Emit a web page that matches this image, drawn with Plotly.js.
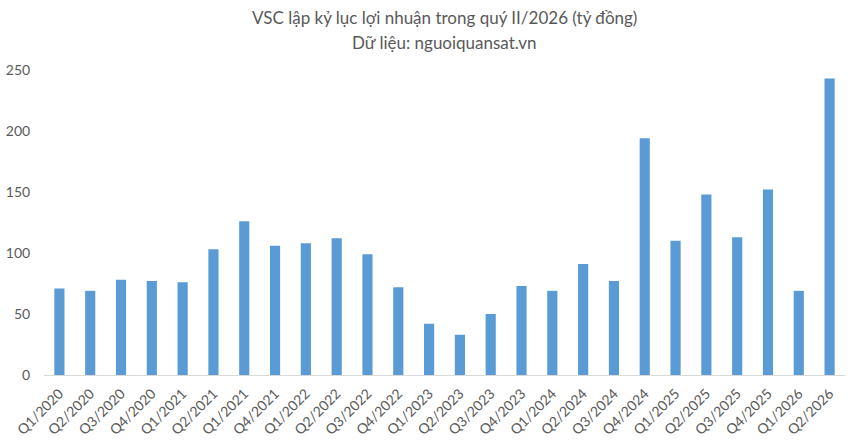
<!DOCTYPE html>
<html>
<head>
<meta charset="utf-8">
<script src="https://cdn.plot.ly/plotly-3.0.1.min.js"></script>
<style>html,body{margin:0;padding:0;background:#fff;}#chart{width:853px;height:447px;}</style>
</head>
<body>
<div id="chart"></div>
<script>
const categories = ["Q1/2020","Q2/2020","Q3/2020","Q4/2020","Q1/2021","Q2/2021","Q1/2021","Q4/2021",
  "Q1/2022","Q2/2022","Q3/2022","Q4/2022","Q1/2023","Q2/2023","Q3/2023","Q4/2023",
  "Q1/2024","Q2/2024","Q3/2024","Q4/2024","Q1/2025","Q2/2025","Q3/2025","Q4/2025","Q1/2026","Q2/2026"];
const profit = [71,69,78,77,76,103,126,106,108,112,99,72,42,33,50,73,69,91,77,194,110,148,113,152,69,243];
const yTicks = [0,50,100,150,200,250];
const titleLine1 = "VSC lập kỷ lục lợi nhuận trong quý II/2026 (tỷ đồng)";
const titleLine2 = "Dữ liệu: nguoiquansat.vn";

const xIdx = categories.map((c, i) => i);
const FONT = 'Lato, "Open Sans", sans-serif';

const trace = {
  type: 'bar',
  x: xIdx,
  y: profit,
  marker: {color: '#5b9bd5'},
  hoverinfo: 'y'
};

const layout = {
  width: 853, height: 447,
  margin: {l: 44, r: 8, t: 70, b: 72},
  paper_bgcolor: '#ffffff', plot_bgcolor: '#ffffff',
  font: {family: FONT, color: '#595959'},
  bargap: 0.67,
  showlegend: false,
  annotations: [
    {text: titleLine1, xref: 'paper', yref: 'paper', x: 0.5, y: 1.1705, xanchor: 'center', yanchor: 'middle',
     showarrow: false, font: {size: 17, color: '#595959', family: FONT}},
    {text: titleLine2, xref: 'paper', yref: 'paper', x: 0.5, y: 1.0918, xanchor: 'center', yanchor: 'middle',
     showarrow: false, font: {size: 17, color: '#595959', family: FONT}}
  ],
  xaxis: {
    tickmode: 'array', tickvals: xIdx, ticktext: categories,
    range: [-0.5, categories.length - 0.5],
    tickangle: -45,
    tickfont: {size: 14, color: '#595959'},
    showgrid: false, zeroline: false,
    showline: true, linecolor: '#d9d9d9', linewidth: 1,
    ticks: 'outside', ticklen: 4, tickcolor: 'rgba(0,0,0,0)', fixedrange: true
  },
  yaxis: {
    range: [0, 250],
    tickmode: 'array', tickvals: yTicks,
    tickfont: {size: 14, color: '#595959'},
    showgrid: false, zeroline: false, showline: false,
    ticks: 'outside', ticklen: 10, tickcolor: 'rgba(0,0,0,0)',
    fixedrange: true
  }
};

Plotly.newPlot('chart', [trace], layout, {displayModeBar: false, staticPlot: true});
</script>
</body>
</html>
